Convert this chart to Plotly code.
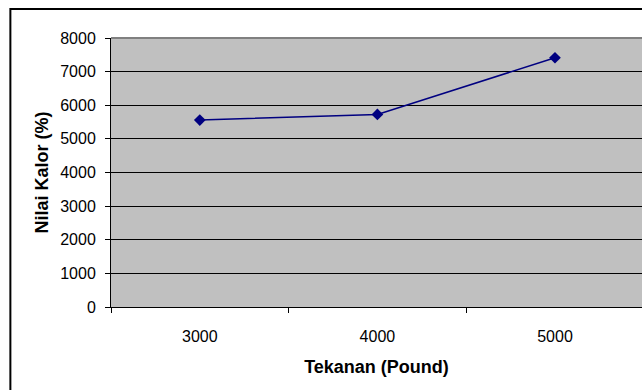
import plotly.graph_objects as go

categories = ["3000", "4000", "5000"]
nilai_kalor = [5558, 5728, 7413]
y_ticks = [0, 1000, 2000, 3000, 4000, 5000, 6000, 7000, 8000]

fig = go.Figure()
fig.add_trace(go.Scatter(
    x=categories, y=nilai_kalor, mode="lines+markers",
    line=dict(color="#000080", width=1.5),
    marker=dict(symbol="diamond", size=9, color="#000080"),
    showlegend=False, cliponaxis=False,
))

font_family = "Liberation Sans, Arial, sans-serif"
fig.update_layout(
    width=642, height=390,
    margin=dict(l=111, r=0, t=38, b=83),
    paper_bgcolor="white", plot_bgcolor="#C0C0C0",
    font=dict(family=font_family, size=16, color="black"),
    xaxis=dict(
        type="category", range=[-0.5, 2.49], tickson="boundaries",
        ticks="outside", ticklen=5, tickcolor="black", showgrid=False,
        showline=True, linecolor="black", linewidth=1,
        tickfont=dict(size=16), ticklabelstandoff=15,
        title=dict(text="<b>Tekanan (Pound)</b>", font=dict(size=18), standoff=16),
    ),
    yaxis=dict(
        range=[0, 8000], tickvals=y_ticks, ticks="outside", ticklen=5,
        tickcolor="black", showgrid=True, gridcolor="black", gridwidth=1,
        showline=True, linecolor="black", linewidth=1, zeroline=False,
        tickfont=dict(size=16), ticklabelstandoff=6,
        title=dict(text="<b>Nilai Kalor (%)</b>", font=dict(size=18), standoff=6),
    ),
    shapes=[
        dict(type="line", xref="paper", yref="paper", x0=0, x1=1, y0=1, y1=1,
             line=dict(color="#808080", width=2)),
        dict(type="rect", xref="paper", yref="paper",
             x0=-0.1895, x1=1.02, y0=-0.35, y1=1.108,
             line=dict(color="black", width=2), fillcolor="rgba(0,0,0,0)"),
    ],
)

fig.write_html(
    "out.html",
    config={"displayModeBar": False},
    post_script="document.body.style.margin='0';document.body.style.overflow='hidden';",
)
